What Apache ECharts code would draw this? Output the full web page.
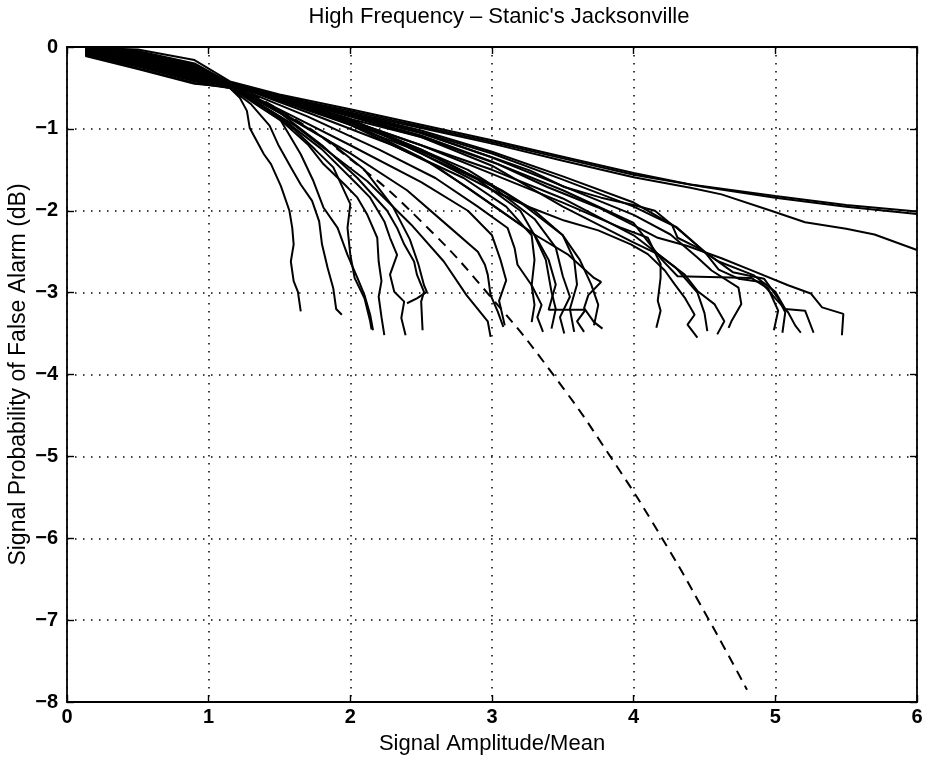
<!DOCTYPE html>
<html>
<head>
<meta charset="utf-8">
<script src="https://cdn.jsdelivr.net/npm/echarts@6/dist/echarts.min.js"></script>
<style>
html,body{margin:0;padding:0;background:#fff;}
#chart{width:928px;height:763px;}
</style>
</head>
<body>
<div id="chart"></div>
<script>
// ---- tick labels ----
const xTicks = [0, 1, 2, 3, 4, 5, 6];
const yTicks = [0, -1, -2, -3, -4, -5, -6, -7, -8];

// ---- measured curves (x = Signal Amplitude/Mean, y = Pfa in dB) ----
const c01 = [[0.13,-0.10],[0.5,-0.26],[0.9,-0.44],[1.15,-0.5],[1.22,-0.62],[1.27,-0.78],[1.29,-0.99],[1.39,-1.31],[1.44,-1.43],[1.51,-1.7],[1.57,-2.0],[1.59,-2.21],[1.6,-2.41],[1.58,-2.62],[1.6,-2.86],[1.63,-2.99],[1.65,-3.23]];
const c02 = [[0.13,-0.09],[0.5,-0.24],[0.9,-0.42],[1.15,-0.5],[1.3,-0.7],[1.43,-0.96],[1.49,-1.19],[1.58,-1.47],[1.65,-1.68],[1.73,-1.88],[1.78,-2.13],[1.8,-2.41],[1.84,-2.7],[1.88,-2.95],[1.9,-3.2],[1.94,-3.27]];
const c03 = [[0.13,-0.11],[0.5,-0.27],[0.9,-0.45],[1.15,-0.49],[1.35,-0.72],[1.51,-0.9],[1.65,-1.31],[1.74,-1.64],[1.81,-1.96],[1.91,-2.21],[1.98,-2.54],[2.05,-2.82],[2.1,-3.03],[2.14,-3.27],[2.16,-3.46]];
const c04 = [[0.13,-0.08],[0.5,-0.22],[0.9,-0.40],[1.15,-0.48],[1.4,-0.75],[1.6,-1.0],[1.75,-1.25],[1.88,-1.47],[2.0,-1.92],[1.98,-2.21],[2.0,-2.54],[2.03,-2.82],[2.1,-3.07],[2.14,-3.35],[2.15,-3.45]];
const c05 = [[0.13,-0.07],[0.5,-0.2],[0.9,-0.38],[1.15,-0.47],[1.45,-0.8],[1.7,-1.19],[1.81,-1.43],[1.96,-1.68],[2.05,-1.84],[2.12,-2.05],[2.19,-2.33],[2.2,-2.62],[2.22,-2.86],[2.2,-3.05],[2.22,-3.3],[2.24,-3.52]];
const c06 = [[0.13,-0.06],[0.5,-0.17],[0.9,-0.36],[1.15,-0.48],[1.5,-0.85],[1.8,-1.25],[2.05,-1.68],[2.14,-1.84],[2.24,-2.13],[2.28,-2.33],[2.33,-2.54],[2.28,-2.78],[2.31,-2.99],[2.38,-3.11],[2.36,-3.31],[2.39,-3.52]];
const c07 = [[0.13,-0.05],[0.5,-0.15],[0.9,-0.33],[1.15,-0.47],[1.5,-0.8],[1.8,-1.2],[2.05,-1.6],[2.26,-2.0],[2.33,-2.21],[2.38,-2.41],[2.45,-2.62],[2.47,-2.78],[2.52,-2.99],[2.5,-3.11],[2.51,-3.46]];
const c08 = [[0.13,-0.10],[0.5,-0.23],[0.9,-0.41],[1.15,-0.47],[1.5,-0.78],[1.85,-1.15],[2.1,-1.5],[2.3,-1.95],[2.42,-2.35],[2.48,-2.65],[2.52,-2.91],[2.54,-2.99],[2.47,-3.07],[2.40,-3.13]];
const c09 = [[0.13,-0.04],[0.5,-0.13],[0.9,-0.30],[1.15,-0.47],[1.6,-0.95],[1.9,-1.35],[2.12,-1.64],[2.43,-2.17],[2.66,-2.62],[2.82,-3.03],[2.97,-3.35],[2.99,-3.54]];
const c10 = [[0.13,-0.09],[0.5,-0.21],[0.9,-0.39],[1.15,-0.47],[1.6,-0.9],[2.0,-1.3],[2.4,-1.75],[2.7,-2.2],[2.9,-2.5],[2.95,-2.66],[2.97,-2.78],[2.99,-3.03],[3.04,-3.23],[3.08,-3.42]];
const c11 = [[0.13,-0.06],[0.5,-0.18],[0.9,-0.37],[1.15,-0.46],[1.6,-0.85],[2.0,-1.2],[2.5,-1.65],[2.83,-2.0],[3.0,-2.3],[3.06,-2.6],[3.1,-2.85],[3.05,-3.1],[3.09,-3.4]];
const c12 = [[0.13,-0.05],[0.5,-0.14],[0.9,-0.32],[1.15,-0.46],[1.7,-0.85],[2.2,-1.25],[2.6,-1.6],[2.9,-1.95],[3.11,-2.21],[3.16,-2.46],[3.18,-2.66],[3.28,-2.91],[3.3,-3.15],[3.28,-3.36]];
const c13 = [[0.13,-0.08],[0.5,-0.2],[0.9,-0.37],[1.15,-0.45],[1.7,-0.8],[2.3,-1.2],[2.8,-1.6],[3.1,-1.95],[3.28,-2.3],[3.3,-2.6],[3.28,-2.91],[3.35,-3.15],[3.32,-3.3],[3.36,-3.48]];
const c14 = [[0.13,-0.03],[0.5,-0.1],[0.9,-0.28],[1.15,-0.45],[1.8,-0.82],[2.4,-1.22],[2.9,-1.62],[3.2,-2.0],[3.3,-2.3],[3.38,-2.6],[3.42,-2.99],[3.45,-3.2],[3.42,-3.44]];
const c15 = [[0.13,-0.07],[0.5,-0.19],[0.9,-0.36],[1.15,-0.44],[1.8,-0.8],[2.5,-1.25],[3.0,-1.7],[3.3,-2.1],[3.45,-2.45],[3.5,-2.8],[3.55,-3.05],[3.48,-3.3],[3.51,-3.5]];
const c16 = [[0.13,-0.04],[0.5,-0.12],[0.9,-0.29],[1.15,-0.44],[2.0,-0.9],[2.6,-1.35],[3.07,-1.75],[3.3,-2.0],[3.5,-2.3],[3.58,-2.6],[3.6,-2.9],[3.55,-3.2],[3.58,-3.48]];
const c17 = [[0.13,-0.09],[0.5,-0.22],[0.9,-0.4],[1.15,-0.45],[2.0,-0.95],[2.6,-1.45],[3.07,-2.01],[3.3,-2.29],[3.4,-2.6],[3.45,-2.9],[3.4,-3.21],[3.66,-3.21],[3.6,-3.35],[3.65,-3.48]];
const c18 = [[0.13,-0.02],[0.5,-0.07],[0.9,-0.23],[1.15,-0.44],[2.0,-0.88],[2.83,-1.5],[3.2,-1.9],[3.5,-2.3],[3.62,-2.6],[3.7,-2.9],[3.75,-3.15],[3.72,-3.4]];
const c19 = [[0.13,-0.06],[0.5,-0.16],[0.9,-0.34],[1.15,-0.45],[2.0,-0.92],[2.5,-1.35],[2.83,-1.72],[3.07,-2.01],[3.3,-2.29],[3.54,-2.54],[3.72,-2.82],[3.77,-2.87],[3.68,-3.03],[3.65,-3.19],[3.72,-3.36],[3.78,-3.44]];
const c20 = [[0.13,-0.05],[0.5,-0.13],[0.9,-0.31],[1.15,-0.45],[2.0,-0.9],[2.5,-1.2],[3.0,-1.55],[3.5,-1.9],[3.9,-2.2],[4.1,-2.33],[4.19,-2.65],[4.19,-2.82],[4.17,-3.1],[4.19,-3.22],[4.16,-3.43]];
const c21 = [[0.13,-0.03],[0.5,-0.09],[0.9,-0.26],[1.15,-0.44],[2.0,-0.88],[2.5,-1.3],[3.04,-1.78],[3.27,-1.96],[3.51,-2.12],[3.75,-2.24],[3.98,-2.41],[4.1,-2.53],[4.22,-2.73],[4.29,-2.9],[4.36,-3.06],[4.43,-3.27],[4.38,-3.39],[4.45,-3.55]];
const c22 = [[0.13,-0.08],[0.5,-0.19],[0.9,-0.35],[1.15,-0.45],[2.0,-0.9],[3.0,-1.5],[3.5,-1.85],[4.0,-2.3],[4.3,-2.7],[4.45,-3.0],[4.5,-3.25],[4.52,-3.47]];
const c23 = [[0.13,-0.04],[0.5,-0.11],[0.9,-0.27],[1.15,-0.45],[2.0,-0.85],[2.5,-1.1],[3.0,-1.45],[3.5,-1.95],[3.98,-2.37],[4.17,-2.53],[4.36,-2.78],[4.45,-2.98],[4.57,-3.14],[4.64,-3.35],[4.59,-3.51]];
const c24 = [[0.13,-0.02],[0.5,-0.06],[0.9,-0.21],[1.15,-0.44],[2.0,-0.83],[2.5,-1.05],[3.0,-1.35],[3.5,-1.7],[4.0,-2.05],[4.26,-2.29],[4.45,-2.57],[4.55,-2.73],[4.74,-2.94],[4.76,-3.14],[4.69,-3.35],[4.67,-3.43]];
const c25 = [[0.13,-0.06],[0.5,-0.15],[0.9,-0.32],[1.15,-0.44],[2.0,-0.82],[2.5,-1.04],[3.0,-1.3],[3.5,-1.62],[4.0,-1.95],[4.3,-2.2],[4.5,-2.5],[4.7,-2.75],[4.92,-2.83],[5.02,-3.07],[5.07,-3.24],[5.05,-3.49]];
const c26 = [[0.13,-0.03],[0.5,-0.08],[0.9,-0.25],[1.15,-0.45],[2.0,-0.84],[2.5,-1.08],[3.0,-1.4],[3.5,-1.75],[4.0,-2.15],[4.2,-2.6],[4.31,-2.8],[4.83,-2.82],[4.95,-2.95],[5.02,-3.22],[4.99,-3.46]];
const c27 = [[0.13,-0.05],[0.5,-0.12],[0.9,-0.29],[1.15,-0.44],[2.0,-0.81],[2.5,-1.02],[3.0,-1.28],[3.5,-1.58],[4.0,-1.9],[4.3,-2.2],[4.5,-2.5],[4.6,-2.72],[4.74,-2.83],[4.9,-2.87],[5.0,-3.07],[5.09,-3.24],[5.14,-3.4],[5.18,-3.49]];
const c28 = [[0.13,-0.04],[0.5,-0.1],[0.9,-0.27],[1.15,-0.45],[1.6,-0.64],[2.0,-0.82],[2.5,-1.05],[3.04,-1.37],[3.27,-1.51],[3.51,-1.71],[3.77,-1.84],[4.0,-1.93],[4.15,-2.0],[4.27,-2.17],[4.31,-2.33],[4.45,-2.45],[4.6,-2.62],[4.85,-2.79],[5.0,-2.99],[5.07,-3.2],[5.21,-3.22],[5.27,-3.49]];
const c29 = [[0.13,-0.07],[0.5,-0.17],[0.9,-0.34],[1.15,-0.46],[1.6,-0.68],[2.0,-0.88],[2.5,-1.1],[3.04,-1.43],[3.39,-1.71],[3.75,-1.96],[3.98,-2.16],[4.17,-2.33],[4.38,-2.43],[4.62,-2.58],[4.85,-2.74],[5.09,-2.91],[5.25,-3.01],[5.33,-3.18],[5.48,-3.26],[5.47,-3.52]];
const t1 = [[0.13,-0.01],[0.5,-0.03],[0.9,-0.16],[1.15,-0.42],[1.5,-0.58],[2.0,-0.76],[2.5,-0.95],[3.0,-1.14],[3.5,-1.34],[4.0,-1.54],[4.4,-1.68],[5.0,-1.82],[5.5,-1.93],[6.0,-2.01]];
const t2 = [[0.13,-0.02],[0.5,-0.05],[0.9,-0.2],[1.15,-0.44],[1.5,-0.6],[2.0,-0.78],[2.5,-0.97],[3.0,-1.16],[3.5,-1.36],[4.0,-1.56],[4.5,-1.71],[5.0,-1.84],[5.5,-1.95],[6.0,-2.04]];
const t3 = [[0.13,-0.03],[0.5,-0.08],[0.9,-0.24],[1.15,-0.45],[1.5,-0.61],[2.0,-0.8],[2.5,-0.99],[3.0,-1.18],[3.5,-1.39],[4.0,-1.59],[4.4,-1.72],[4.62,-1.8],[4.97,-2.0],[5.21,-2.14],[5.5,-2.22],[5.7,-2.29],[6.0,-2.48]];

// ---- dashed reference curve ----
const theory = [[0.15,-0.01],[0.5,-0.09],[1.0,-0.34],[1.5,-0.77],[2.0,-1.37],[2.5,-2.13],[3.0,-3.07],[3.44,-4.02],[3.85,-5.04],[4.19,-5.97],[4.5,-6.9],[4.8,-7.85]];

const measured = [c01,c02,c03,c04,c05,c06,c07,c08,c09,c10,c11,c12,c13,c14,c15,c16,c17,c18,c19,c20,c21,c22,c23,c24,c25,c26,c27,c28,c29,t1,t2,t3];

const FONT = 'Liberation Sans, Arial, Helvetica, sans-serif';
const fmt = v => (v < 0 ? '\u2212' + Math.abs(v) : String(v));

const chart = echarts.init(document.getElementById('chart'), null, {renderer: 'canvas'});

const series = measured.map((d, i) => ({
  name: 'm' + i, type: 'line', data: d, showSymbol: false, symbol: 'none',
  xAxisIndex: 0, yAxisIndex: 0,
  lineStyle: {color: '#000', width: 2}, z: 3, silent: true, animation: false
}));
series.push({
  name: 'theory', type: 'line', data: theory, showSymbol: false, symbol: 'none', smooth: true,
  xAxisIndex: 0, yAxisIndex: 0,
  lineStyle: {color: '#000', width: 2, type: [10, 7]}, z: 3, silent: true, animation: false
});

const gridLine = {show: true, lineStyle: {color: '#000', width: 1.5, type: [1.5, 6.5]}};

chart.setOption({
  backgroundColor: '#fff',
  animation: false,
  title: {
    text: "High Frequency \u2013 Stanic's Jacksonville",
    left: 494, top: 1, textAlign: 'center',
    textStyle: {fontFamily: FONT, fontSize: 22, fontWeight: 'normal', color: '#000'}
  },
  grid: {left: 67, right: 11, top: 47, bottom: 61, containLabel: false, outerBoundsMode: 'none'},
  xAxis: [{
    type: 'value', min: 0, max: 6, interval: 1, position: 'bottom',
    name: 'Signal Amplitude/Mean', nameLocation: 'middle', nameGap: 31, nameMoveOverlap: false,
    nameTextStyle: {fontFamily: FONT, fontSize: 22, color: '#000'},
    axisLine: {show: true, onZero: false, lineStyle: {color: '#000', width: 1.8}},
    axisTick: {show: true, inside: true, length: 7, lineStyle: {color: '#000', width: 1.4}},
    axisLabel: {fontFamily: FONT, fontSize: 20, color: '#000', fontWeight: 'bold', margin: 5,
      formatter: v => xTicks.includes(v) ? fmt(v) : ''},
    splitLine: gridLine
  }, {
    type: 'value', min: 0, max: 6, interval: 1, position: 'top',
    axisLine: {show: true, onZero: false, lineStyle: {color: '#000', width: 1.8}},
    axisTick: {show: true, inside: true, length: 7, lineStyle: {color: '#000', width: 1.4}},
    axisLabel: {show: false}, splitLine: {show: false}
  }],
  yAxis: [{
    type: 'value', min: -8, max: 0, interval: 1, position: 'left',
    name: 'Signal Probability of False Alarm (dB)', nameLocation: 'middle', nameGap: 37, nameRotate: 90,
    nameMoveOverlap: false,
    nameTextStyle: {fontFamily: FONT, fontSize: 23, color: '#000'},
    axisLine: {show: true, onZero: false, lineStyle: {color: '#000', width: 1.8}},
    axisTick: {show: true, inside: true, length: 7, lineStyle: {color: '#000', width: 1.4}},
    axisLabel: {fontFamily: FONT, fontSize: 20, color: '#000', fontWeight: 'bold', margin: 9,
      formatter: v => yTicks.includes(v) ? fmt(v) : ''},
    splitLine: gridLine
  }, {
    type: 'value', min: -8, max: 0, interval: 1, position: 'right',
    axisLine: {show: true, onZero: false, lineStyle: {color: '#000', width: 1.8}},
    axisTick: {show: true, inside: true, length: 7, lineStyle: {color: '#000', width: 1.4}},
    axisLabel: {show: false}, splitLine: {show: false}
  }],
  series: series
});
</script>
</body>
</html>
